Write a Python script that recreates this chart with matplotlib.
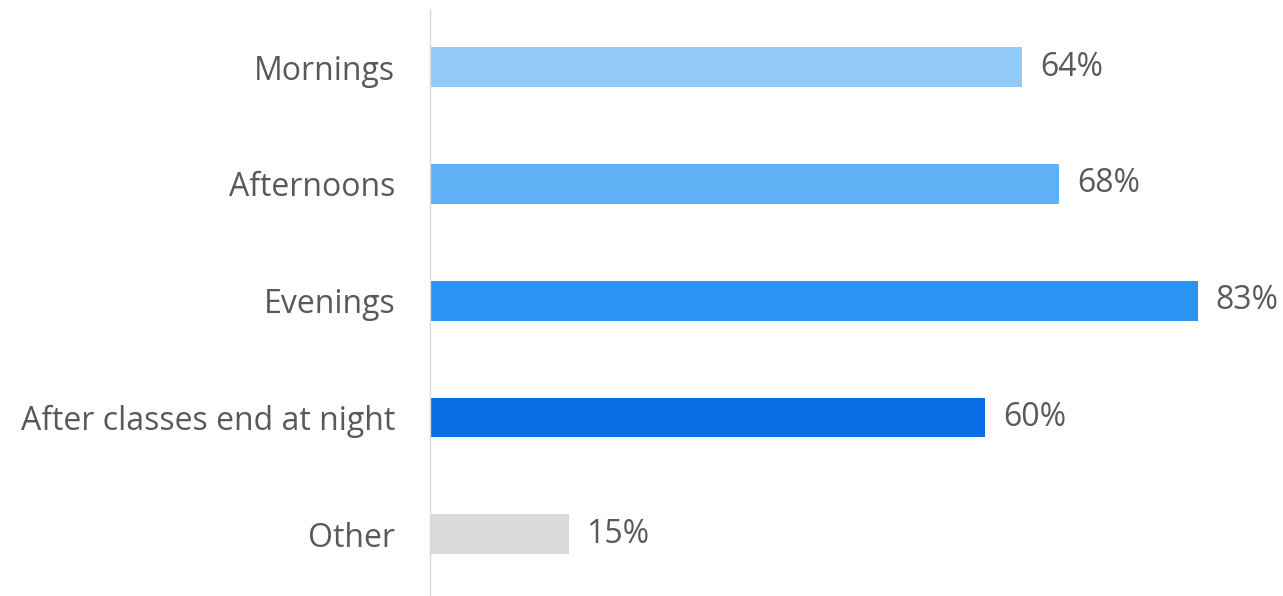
import matplotlib
matplotlib.use("Agg")
import matplotlib.pyplot as plt

# data
categories = ['Mornings', 'Afternoons', 'Evenings', 'After classes end at night', 'Other']
values = [64, 68, 83, 60, 15]
colors = ['#93CBF7', '#60B0F5', '#2B93F1', '#0A6FE6', '#D9D9D9']

plt.rcParams['font.family'] = ['Open Sans', 'DejaVu Sans']

fig = plt.figure(figsize=(12.83, 5.96), dpi=100)
ax = fig.add_axes([430/1283, 1/596, 853/1283, 585/596])

pos = list(range(len(categories)))
ax.barh(pos, values, height=0.34, color=colors)
ax.set_xlim(0, 83*853/768)
ax.set_ylim(4.52, -0.49)

for p, v in zip(pos, values):
    ax.text(v + 1.9, p, '%d%%' % v, va='center', ha='left', fontsize=23, color='#595959')

ax.set_yticks(pos)
ax.set_yticklabels(categories, fontsize=23, color='#595959')
ax.tick_params(axis='y', length=0, pad=25)
ax.set_xticks([])
for s in ['top', 'right', 'bottom']:
    ax.spines[s].set_visible(False)
ax.spines['left'].set_color('#D9D9D9')
ax.spines['left'].set_linewidth(1)

fig.savefig('out.png', dpi=100)
